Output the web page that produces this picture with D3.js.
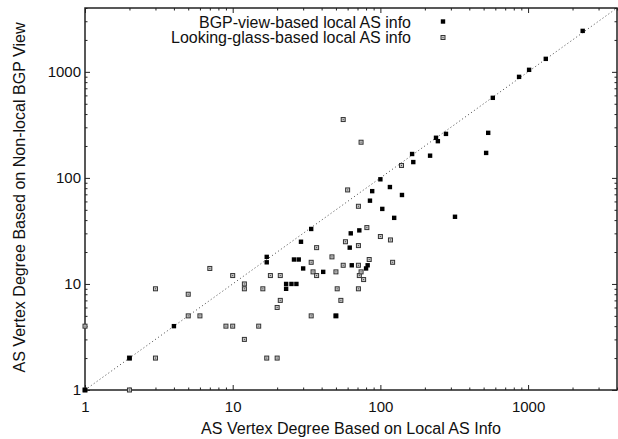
<!DOCTYPE html>
<html>
<head>
<meta charset="utf-8">
<script src="https://cdn.jsdelivr.net/npm/d3@7"></script>
<style>
  body { margin: 0; background: #fff; }
  svg text { font-family: "Liberation Sans", Arial, Helvetica, sans-serif; fill: #111; }
</style>
</head>
<body>
<svg width="618" height="439"></svg>
<script>
// BGP-view-based local AS info (filled squares)
const bgpX = [1, 2, 4, 17, 17, 23, 23, 25, 27, 26, 28, 29, 30, 34, 41, 50, 62, 63, 64, 72, 80, 82, 85, 88, 100, 103, 116, 124, 140, 164, 167, 217, 238, 245, 278, 320, 520, 537, 577, 869, 1016, 1318, 2343];
const bgpY = [1, 2, 4, 18, 16, 10, 9, 10, 10, 17, 17, 25, 14, 33, 13, 5, 22, 30, 15, 32, 14, 15, 61, 75, 97, 51, 82, 42, 69, 168, 141, 162, 239, 222, 260, 43, 172, 266, 569, 897, 1045, 1326, 2434];

// Looking-glass-based local AS info (open squares)
const lgX = [1, 1, 2, 2, 3, 3, 5, 5, 6, 7, 9, 10, 10, 12, 12, 12, 15, 16, 17, 18, 20, 20, 21, 21, 34, 34, 35, 37, 37, 47, 50, 50, 51, 54, 56, 56, 58, 60, 71, 71, 71, 71, 72, 74, 74, 77, 81, 84, 100, 117, 121, 139];
const lgY = [1, 4, 1, 2, 2, 9, 8, 5, 5, 14, 4, 4, 12, 10, 9, 3, 4, 9, 2, 12, 2, 6, 12, 7, 5, 16, 13, 12, 22, 18, 13, 5, 9, 7, 15, 355, 25, 77, 54, 23, 15, 9, 12, 13, 217, 11, 34, 17, 28, 26, 16, 131];

const majorTicks = [1, 10, 100, 1000];
const seriesNames = ["BGP-view-based local AS info", "Looking-glass-based local AS info"];

function init() {
    const svg = d3.select("svg");
    const left = 85, right = 617, top = 8, bottom = 390;

    const x = d3.scaleLog().domain([1, 4000]).range([left, right]);
    const y = d3.scaleLog().domain([1, 4000]).range([bottom, top]);

    // minor ticks 2..9 in each decade
    const minor = [];
    majorTicks.forEach(d => {
        for (let k = 2; k <= 9; k++) if (d * k <= 4000) minor.push(d * k);
    });

    const sides = [
        [() => d3.axisBottom(x), `translate(0,${bottom})`, 11, true],
        [() => d3.axisTop(x), `translate(0,${top})`, 0, false],
        [() => d3.axisLeft(y), `translate(${left},0)`, 4, true],
        [() => d3.axisRight(y), `translate(${right},0)`, 0, false]
    ];
    sides.forEach(s => {
        // major ticks (inward) + labels
        const g = svg.append("g").attr("transform", s[1]);
        g.call(s[0]().tickValues(majorTicks).tickSize(-5).tickSizeOuter(0)
            .tickPadding(s[2]).tickFormat(s[3] ? d3.format("d") : ""));
        g.select(".domain").remove();
        g.selectAll("line").attr("stroke", "#222");
        g.selectAll("text").attr("fill", "#111").attr("font-size", "15px")
            .attr("font-family", "\"Liberation Sans\", Arial, sans-serif");

        // minor ticks
        const m = svg.append("g").attr("transform", s[1]);
        m.call(s[0]().tickValues(minor).tickSize(-2.5).tickSizeOuter(0).tickFormat(""));
        m.select(".domain").remove();
        m.selectAll("line").attr("stroke", "#222");
    });

    // plot border
    svg.append("rect")
        .attr("x", left).attr("y", top)
        .attr("width", right - left).attr("height", bottom - top)
        .attr("fill", "none").attr("stroke", "#222").attr("stroke-width", 1.5);

    // y = x reference line
    svg.append("line")
        .attr("x1", x(1)).attr("y1", y(1))
        .attr("x2", x(4000)).attr("y2", y(4000))
        .attr("stroke", "#444").attr("stroke-width", 1)
        .attr("stroke-dasharray", "1,2.6");

    const lgData = lgX.map((v, i) => [v, lgY[i]]);
    const bgpData = bgpX.map((v, i) => [v, bgpY[i]]);

    function openBox(sel) {
        sel.append("rect")
            .attr("x", -2).attr("y", -2).attr("width", 4).attr("height", 4)
            .attr("fill", "#c8c8c8").attr("stroke", "#333").attr("stroke-width", 1);
        sel.append("rect")
            .attr("x", -0.5).attr("y", -0.5).attr("width", 1).attr("height", 1)
            .attr("fill", "#444");
    }
    function filledBox(sel) {
        sel.append("rect")
            .attr("x", -2.2).attr("y", -2.2).attr("width", 4.4).attr("height", 4.4)
            .attr("fill", "#000");
    }

    svg.append("g").selectAll("g")
        .data(lgData)
        .enter()
        .append("g")
        .attr("transform", d => `translate(${x(d[0])},${y(d[1])})`)
        .call(openBox);

    svg.append("g").selectAll("g")
        .data(bgpData)
        .enter()
        .append("g")
        .attr("transform", d => `translate(${x(d[0])},${y(d[1])})`)
        .call(filledBox);

    // legend
    const legendWidths = [212, 240];
    const legend = svg.append("g").attr("transform", "translate(411,0)");
    legend.selectAll("text")
        .data(seriesNames)
        .enter()
        .append("text")
        .attr("x", 0)
        .attr("y", (d, i) => 28 + i * 15.3)
        .attr("text-anchor", "end")
        .attr("font-size", "16px")
        .attr("textLength", (d, i) => legendWidths[i])
        .attr("lengthAdjust", "spacingAndGlyphs")
        .text(d => d);
    legend.append("g").attr("transform", "translate(32,21.5)").call(filledBox);
    legend.append("g").attr("transform", "translate(32,37.5)").call(openBox);

    // axis titles
    svg.append("text")
        .attr("x", 351)
        .attr("y", 433.5)
        .attr("text-anchor", "middle")
        .attr("font-size", "16px")
        .attr("textLength", 300)
        .attr("lengthAdjust", "spacingAndGlyphs")
        .text("AS Vertex Degree Based on Local AS Info");
    svg.append("text")
        .attr("transform", "translate(25,197.5) rotate(-90)")
        .attr("text-anchor", "middle")
        .attr("font-size", "16px")
        .attr("textLength", 350)
        .attr("lengthAdjust", "spacingAndGlyphs")
        .text("AS Vertex Degree Based on Non-local BGP View");
}; init();
</script>
</body>
</html>
